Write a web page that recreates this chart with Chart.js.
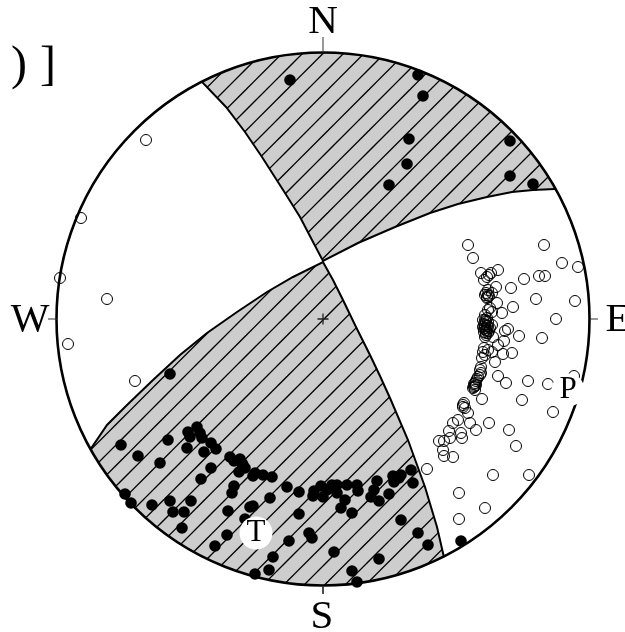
<!DOCTYPE html>
<html><head><meta charset="utf-8">
<script src="https://cdn.jsdelivr.net/npm/chart.js@4"></script>
<style>html,body{margin:0;padding:0;background:#fff;overflow:hidden}canvas{display:block}</style>
</head><body><canvas id="c" width="625" height="632"></canvas>
<script>
// Stereonet plane coordinates, origin at the net centre, y up
const netRadius = 266.5;
const filledX = [-33,95,100,86,84,66,187,187,210,-153,138,
 -202,-185,-163,-155,-136,-135,-126,-133,-123,-121,-119,-112,-107,-112,-122,-93,-89,-83,-84,-80,-89,-91,-198,-192,-171,-153,-132,-150,-139,-141,-95,-96,-108,-73,-78,
 -81,-78,-68,-60,-51,-70,-36,-24,-53,-70,-24,-34,-14,-11,-50,-54,-68,11,29,34,56,78,95,105,
 -10,-9,-2,0,4,9,14,14,22,18,29,24,34,35,54,51,48,56,66,70,71,78,88,90,76];
const filledY = [239,244,223,180,155,134,178,143,135,-55,-222,
 -126,-137,-144,-121,-129,-113,-108,-118,-114,-119,-133,-124,-130,-149,-160,-138,-142,-140,-153,-146,-167,-174,-175,-184,-186,-182,-182,-193,-193,-209,-192,-216,-227,-188,-200,
 -144,-149,-154,-156,-158,-157,-168,-173,-179,-187,-195,-222,-214,-219,-238,-251,-255,-233,-252,-263,-240,-201,-214,-226,
 -177,-172,-167,-178,-171,-166,-166,-174,-181,-189,-194,-166,-166,-172,-162,-171,-178,-182,-175,-157,-163,-156,-151,-164,-159];
const openX = [-177,-242,-263,-216,-255,-188,145,150,221,239,255,175,158,168,164,161,166,201,216,222,188,173,165,162,165,164,169,213,252,174,190,167,169,165,179,162,233,185,182,196,219,181,175,180,189,169,170,
 162,163,161,164,162,165,160,163,161,165,163,167,160,164,166,162,163,162,165,161,164,163,164,163,166,
 161,160,165,169,162,159,172,158,157,158,155,152,151,152,153,150,157,159,153,152,151,154,141,140,
 175,183,205,225,251,199,230,140,142,145,147,135,130,126,153,166,186,193,138,139,127,116,121,120,121,130,104,170,206,136,162,136];
const openY = [179,101,41,20,-25,-62,74,61,74,56,52,49,46,46,42,39,44,40,43,43,31,32,29,24,24,21,26,20,18,16,12,11,7,9,6,4,0,-10,-12,-17,-19,-22,-26,-35,-34,-6,-18,
 -1,-3,-5,-7,-9,-3,-8,-11,-13,-14,-16,-9,-1,1,-12,-18,-2,-6,-7,-10,-12,-14,22,26,23,
 -29,-33,-31,-33,-36,-39,-43,-48,-51,-54,-58,-64,-68,-71,-66,-69,-56,-80,-62,-67,-65,-60,-84,-88,
 -57,-64,-62,-65,-57,-81,-93,-86,-89,-94,-104,-101,-104,-112,-111,-104,-111,-127,-114,-119,-119,-122,-122,-131,-137,-138,-150,-156,-156,-174,-189,-200];
// Compressional quadrant outlines (points past the rim are masked off by the net edge)
const upperX = [277,277,-160,-120,-97,-78,-61,-38,-23,-11,0,35,72,107,135,164,189,210,232,277];
const upperY = [130,319,319,236,212,187,162,126,102,79,58,76,92,106,115,122,127,129,130,130];
const lowerX = [-290,-260,137,120,114,102,85,67,57,47,33,20,10,0,-30,-56,-86,-116,-143,-170,-196,-216,-231,-290];
const lowerY = [-180,-313,-313,-234,-208,-168,-121,-79,-57,-36,-8,19,39,57,42,27,7,-14,-36,-61,-86,-106,-128,-180];
const axisNames = ["T","P"];
const axisX = [-67,245];
const axisY = [-214,-71];
const directionNames = ["N","W","E","S",")","]"];
const directionX = [0,-293,295,-1,-304,-275];
const directionY = [286,-12,-12,-309,240,240];
const tickX = [0,0,NaN,-266,-275,NaN,267,275,NaN,0,0];
const tickY = [266,282,NaN,0,0,NaN,0,0,NaN,-267,-275];
const frameX = [269,269];
const frameY = [269,-271];

const zip = (xs, ys) => xs.map((x, i) => ({x, y: ys[i]}));

function hatchPattern() {
  const t = document.createElement('canvas');
  t.width = 41; t.height = 41;
  const g = t.getContext('2d');
  g.fillStyle = '#cdcdcd';
  g.fillRect(0, 0, 41, 41);
  g.strokeStyle = '#000';
  g.lineWidth = 1.25;
  for (let c = 7.5 - 20.5; c < 100; c += 20.5) {
    g.beginPath(); g.moveTo(c + 2, -2); g.lineTo(-2, c + 2); g.stroke();
  }
  return g.createPattern(t, 'repeat');
}
const hatch = hatchPattern();

const netPlugin = {
  id: 'net',
  afterDatasetDraw(chart, args) {
    if (chart.data.datasets[args.index].label !== 'lower') return;
    const {ctx, scales: {x, y}} = chart;
    const cx = x.getPixelForValue(0), cy = y.getPixelForValue(0);
    const r = x.getPixelForValue(netRadius) - cx;
    ctx.save();
    ctx.beginPath();
    ctx.rect(0, 0, chart.width, chart.height);
    ctx.arc(cx, cy, r, 0, Math.PI * 2);
    ctx.fillStyle = '#fff';
    ctx.fill('evenodd');
    ctx.beginPath();
    ctx.arc(cx, cy, r, 0, Math.PI * 2);
    ctx.lineWidth = 2.6;
    ctx.strokeStyle = '#000';
    ctx.stroke();
    ctx.restore();
  },
  afterDatasetsDraw(chart) {
    const {ctx, scales: {x, y}} = chart;
    ctx.save();
    ctx.fillStyle = '#000';
    ctx.textAlign = 'center';
    ctx.textBaseline = 'alphabetic';
    directionNames.forEach((t, i) => {
      ctx.font = (t === ')' || t === ']') ? '48px "Liberation Serif"' : '41px "Liberation Serif"';
      ctx.fillText(t, x.getPixelForValue(directionX[i]), y.getPixelForValue(directionY[i]));
    });
    ctx.font = '31px "Liberation Serif"';
    ctx.textBaseline = 'middle';
    axisNames.forEach((t, i) => {
      ctx.fillText(t, x.getPixelForValue(axisX[i]), y.getPixelForValue(axisY[i]));
    });
    ctx.restore();
  }
};

new Chart(document.getElementById('c'), {
  type: 'scatter',
  data: {datasets: [
    {label:'frame', order:7, data: zip(frameX, frameY), showLine:true, borderColor:'#f3f3f3', borderWidth:1, pointRadius:0},
    {label:'upper', order:6, data: zip(upperX, upperY), showLine:true, fill:'shape', backgroundColor:hatch, borderColor:'#000', borderWidth:2, pointRadius:0, tension:0},
    {label:'lower', order:5, data: zip(lowerX, lowerY), showLine:true, fill:'shape', backgroundColor:hatch, borderColor:'#000', borderWidth:2, pointRadius:0, tension:0},
    {label:'ticks', order:4, data: zip(tickX, tickY), showLine:true, spanGaps:false, borderColor:'#333', borderWidth:1, pointRadius:0},
    {label:'centre', order:3, data: [{x:0,y:0}], pointStyle:'cross', pointRadius:5.5, borderColor:'#222', borderWidth:1.3, backgroundColor:'#222'},
    {label:'open', order:2, data: zip(openX, openY), pointRadius:5.5, borderColor:'#000', borderWidth:1, backgroundColor:'rgba(0,0,0,0)'},
    {label:'filled', order:1, data: zip(filledX, filledY), pointRadius:5.8, borderWidth:0, backgroundColor:'#000'},
    {label:'axes', order:0, data: zip(axisX, axisY), pointRadius:16.5, borderWidth:0, backgroundColor:'#fff'}
  ]},
  options: {
    responsive:false, animation:false, devicePixelRatio:1,
    layout:{padding:0, autoPadding:false},
    plugins:{legend:{display:false}, tooltip:{enabled:false}},
    scales:{
      x:{type:'linear', display:false, min:-323, max:302},
      y:{type:'linear', display:false, min:-313, max:319}
    }
  },
  plugins:[netPlugin]
});
</script></body></html>
